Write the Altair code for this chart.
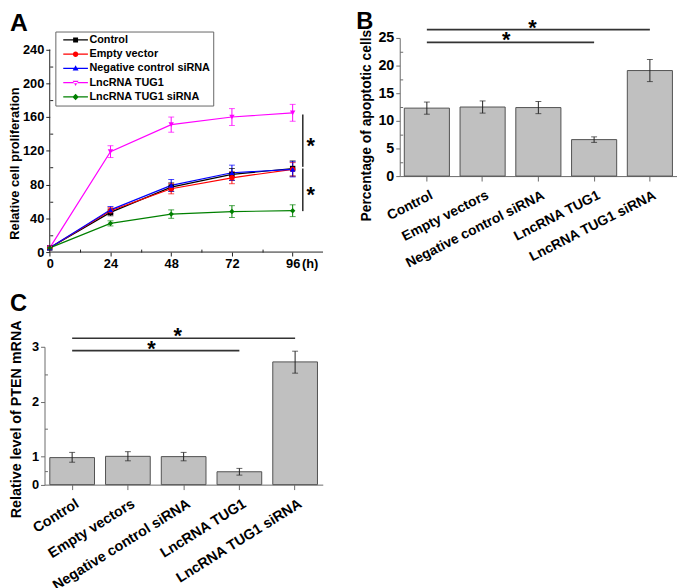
import altair as alt
import pandas as pd

FONT = "Liberation Sans"

# ---------------- Panel A : proliferation curves ----------------
hours = [0, 24, 48, 72, 96]
series_a = ["Control", "Empty vector", "Negative control siRNA", "LncRNA TUG1", "LncRNA TUG1 siRNA"]
colors_a = ["#000000", "#FF0000", "#0000FF", "#FF00FF", "#008000"]
shapes_a = ["square", "circle", "triangle-up", "triangle-down", "diamond"]
control_a = [5, 47, 77, 92, 99]
control_err = [0, 4, 5, 7, 9]
empty_a = [5, 49, 75, 88, 98]
empty_err = [0, 4, 6, 7, 8]
negative_a = [5, 50, 79, 94, 98]
negative_err = [0, 4, 7, 9, 9]
tug1_a = [5, 119, 151, 160, 165]
tug1_err = [0, 7, 9, 10, 10]
sirna_a = [5, 34, 45, 48, 49]
sirna_err = [0, 3, 5, 7, 7]
x_ticks_a = [0, 24, 48, 72, 96]
x_minor_a = [12, 36, 60, 84, 108]
y_ticks_a = [0, 40, 80, 120, 160, 200, 240]
y_minor_a = [20, 60, 100, 140, 180, 220]
x_end_a = [108]
y_end_a = [240]
sig_a_x = [100, 100]
sig_a_top = [163, 99]
sig_a_bottom = [101, 48.5]

# ---------------- Panel B : apoptosis ----------------
cats = ["Control", "Empty vectors", "Negative control siRNA", "LncRNA TUG1", "LncRNA TUG1 siRNA"]
apoptosis = [12.3, 12.5, 12.4, 6.6, 19.1]
apoptosis_err = [1.1, 1.1, 1.1, 0.5, 2.0]
y_ticks_b = [0, 5, 10, 15, 20, 25]
y_minor_b = [2.5, 7.5, 12.5, 17.5, 22.5]
sig_b_from = ["Control", "Control"]
sig_b_to = ["LncRNA TUG1 siRNA", "LncRNA TUG1"]
sig_b_y = [26.5, 24.2]

# ---------------- Panel C : PTEN mRNA ----------------
pten = [0.965, 1.005, 1.0, 0.46, 2.725]
pten_lo = [0.80, 0.85, 0.85, 0.34, 2.52]
pten_hi = [1.077, 1.09, 1.077, 0.58, 2.92]
y_ticks_c = [0, 1, 2, 3]
y_minor_c = [0.5, 1.5, 2.5]
sig_c_from = ["Control", "Control"]
sig_c_to = ["LncRNA TUG1 siRNA", "LncRNA TUG1"]
sig_c_y = [3.156, 2.93]

# ---------------- tables ----------------
rows = []
for name, vals, errs in zip(series_a,
                            [control_a, empty_a, negative_a, tug1_a, sirna_a],
                            [control_err, empty_err, negative_err, tug1_err, sirna_err]):
    for h, v, e in zip(hours, vals, errs):
        rows.append(dict(series=name, hour=h, value=v, lo=v - e, hi=v + e, err=e))
df_a = pd.DataFrame(rows)
df_a_err = df_a[df_a.err > 0]
df_sig_a = pd.DataFrame({"x": sig_a_x, "y1": sig_a_top, "y2": sig_a_bottom})
df_sig_a["ymid"] = (df_sig_a.y1 + df_sig_a.y2) / 2
df_axes_a = pd.DataFrame({"x0": [0], "x1": x_end_a, "y0": [0], "y1": y_end_a})
df_h = pd.DataFrame({"hour": [x_ticks_a[-1]], "value": [0], "t": ["(h)"]})

df_b = pd.DataFrame({"cat": cats, "val": apoptosis,
                     "lo": [v - e for v, e in zip(apoptosis, apoptosis_err)],
                     "hi": [v + e for v, e in zip(apoptosis, apoptosis_err)]})
df_sig_b = pd.DataFrame({"a": sig_b_from, "b": sig_b_to, "y": sig_b_y, "t": ["*", "*"]})

df_c = pd.DataFrame({"cat": cats, "val": pten, "lo": pten_lo, "hi": pten_hi})
df_sig_c = pd.DataFrame({"a": sig_c_from, "b": sig_c_to, "y": sig_c_y, "t": ["*", "*"]})

one = pd.DataFrame({"t": ["x"]})

# ---------------- Panel A chart ----------------
AX_A = "#222222"
WA, HA = 282, 217
A_YAXIS_SHIFT = 5.3
xA_scale = alt.Scale(domain=[-2.07, 107.9], nice=False, zero=False)
yA_scale = alt.Scale(domain=[0, 253.7], nice=False, zero=False)
color_a = alt.Scale(domain=series_a, range=colors_a)

xA = alt.X("hour:Q", scale=xA_scale,
           axis=alt.Axis(values=x_ticks_a, domain=False, tickSize=4, tickColor=AX_A, labelOverlap=False,
                         labelPadding=2, labelFontSize=13, title=None, format="d"))
yA = alt.Y("value:Q", scale=yA_scale,
           axis=alt.Axis(values=y_ticks_a, domain=False, offset=-A_YAXIS_SHIFT, tickSize=4,
                         tickColor=AX_A, labelOverlap=False,
                         labelPadding=2, labelFontSize=13, title="Relative cell proliferation",
                         titleFontSize=13, titlePadding=1, titleY=126.8))


def qx(f):
    return alt.X(f, type="quantitative", axis=None)


def qy(f):
    return alt.Y(f, type="quantitative", axis=None)


lines = alt.Chart(df_a).mark_line(strokeWidth=1.2).encode(
    x=xA, y=yA, detail="series:N",
    color=alt.Color("series:N", scale=color_a, legend=None))
minor_a = alt.Chart(df_a).transform_filter("false").mark_point().encode(
    x=alt.X("hour:Q", axis=alt.Axis(orient="top", offset=-HA, values=x_minor_a, labels=False,
                                    domain=False, tickSize=3, tickColor=AX_A, title=None)),
    y=alt.Y("value:Q", axis=alt.Axis(orient="right", offset=-(WA - A_YAXIS_SHIFT), values=y_minor_a,
                                     labels=False, domain=False, tickSize=3, tickColor=AX_A,
                                     title=None)))
err_rules = alt.Chart(df_a_err).mark_rule(strokeWidth=1).encode(
    x=qx("hour"), y=qy("lo"), y2="hi:Q",
    color=alt.Color("series:N", scale=color_a, legend=None))
caps_hi = alt.Chart(df_a_err).mark_tick(orient="horizontal", size=6, thickness=1).encode(
    x=qx("hour"), y=qy("hi"), color=alt.Color("series:N", scale=color_a, legend=None))
caps_lo = alt.Chart(df_a_err).mark_tick(orient="horizontal", size=6, thickness=1).encode(
    x=qx("hour"), y=qy("lo"), color=alt.Color("series:N", scale=color_a, legend=None))
points = alt.Chart(df_a).mark_point(filled=True, size=30, opacity=1).encode(
    x=qx("hour"), y=qy("value"),
    color=alt.Color("series:N", scale=color_a, legend=None),
    shape=alt.Shape("series:N", scale=alt.Scale(domain=series_a, range=shapes_a), legend=None))

line_path = "M-5,-0.26H5V0.26H-5Z "
leg_paths = [
    line_path + "M-1,-1H1V1H-1Z",
    line_path + "M-1.1,0A1.1,1.1,0,1,1,1.1,0A1.1,1.1,0,1,1,-1.1,0Z",
    line_path + "M0,-1.3L1.2,0.8H-1.2Z",
    line_path + "M0,1.3L1.2,-0.8H-1.2Z",
    line_path + "M0,-1.3L1.3,0L0,1.3L-1.3,0Z",
]
leg = alt.Legend(title=None, orient="none", legendX=11, legendY=-6.5, symbolSize=25,
                 symbolStrokeWidth=0, labelFont=FONT, labelFontSize=11, labelFontWeight="bold",
                 labelColor="black", padding=3, rowPadding=2.45, symbolOffset=12, labelOffset=8.5,
                 strokeColor="#666666", fillColor="white", labelLimit=300)
legend_layer = alt.Chart(df_a).transform_filter("false").mark_point(filled=True, opacity=1).encode(
    x=qx("hour"), y=qy("value"),
    color=alt.Color("series:N", scale=color_a, legend=leg),
    shape=alt.Shape("series:N", scale=alt.Scale(domain=series_a, range=leg_paths), legend=leg))

axis_x_rule = alt.Chart(df_axes_a).mark_rule(color=AX_A, strokeWidth=1).encode(
    x=qx("x0"), x2="x1:Q", y=qy("y0"))
axis_y_rule = alt.Chart(df_axes_a).mark_rule(color=AX_A, strokeWidth=1).encode(
    x=qx("x0"), y=qy("y0"), y2="y1:Q")
sig_rule_a = alt.Chart(df_sig_a).mark_rule(color="#333333", strokeWidth=1.6).encode(
    x=qx("x"), y=qy("y1"), y2="y2:Q")
sig_star_a = alt.Chart(df_sig_a).mark_text(text="*", font=FONT, fontSize=22, fontWeight="bold",
                                           align="center", baseline="alphabetic", dx=8, dy=12).encode(
    x=qx("x"), y=qy("ymid"))
h_text = alt.Chart(df_h).mark_text(font=FONT, fontSize=13, fontWeight="bold", align="left",
                                   baseline="middle", dx=9.5, dy=12.5).encode(
    x=qx("hour"), y=qy("value"), text="t:N")
letter_a = alt.Chart(one).mark_text(text="A", font=FONT, fontSize=25, fontWeight="bold",
                                    align="left", baseline="alphabetic").encode(
    x=alt.value(-35), y=alt.value(-6.7))

panel_a = alt.layer(lines, minor_a, err_rules, caps_hi, caps_lo, points, legend_layer,
                    axis_x_rule, axis_y_rule, sig_rule_a, sig_star_a, h_text, letter_a).resolve_scale(
    color="independent", shape="independent").resolve_axis(
    x="independent", y="independent").properties(width=WA, height=HA)

# ---------------- bar panels ----------------
AX_B = "#6a6a6a"


def bar_panel(df, df_sig, y_scale, y_ticks, y_minor, y_title, title_y, title_pad, lab_angle, letter,
              letter_xy, ylab_size, ytitle_size, xlab_size, width, height, pin, pout):
    xs = alt.Scale(domain=cats, paddingInner=pin, paddingOuter=pout)
    x = alt.X("cat:N", sort=cats, scale=xs,
              axis=alt.Axis(title=None, labelAngle=lab_angle, labelAlign="right", labelBaseline="top",
                            labelFontSize=xlab_size, tickSize=5, labelPadding=7, labelOffset=2,
                            domainColor=AX_B, tickColor=AX_B, labelLimit=400, labelOverlap=False))
    y = alt.Y("val:Q", scale=y_scale,
              axis=alt.Axis(values=y_ticks, title=y_title, titleFontSize=ytitle_size, titleY=title_y,
                            titlePadding=title_pad, labelFontSize=ylab_size, tickSize=4, labelPadding=2,
                            domainColor=AX_B, tickColor=AX_B, labelOverlap=False))
    ny = lambda f: alt.Y(f, type="quantitative", axis=None)
    bars = alt.Chart(df).mark_bar(fill="#C0C0C0", stroke="#505050", strokeWidth=1).encode(x=x, y=y)
    minor = alt.Chart(df).transform_filter("false").mark_point().encode(
        y=alt.Y("val:Q", axis=alt.Axis(orient="right", offset=-width, values=y_minor, labels=False,
                                       domain=False, tickSize=3, tickColor=AX_B, title=None)))
    er = alt.Chart(df).mark_rule(color="#222222", strokeWidth=1).encode(x="cat:N", y=ny("lo"), y2="hi:Q")
    ch = alt.Chart(df).mark_tick(orient="horizontal", size=6, thickness=1, color="#222222").encode(
        x="cat:N", y=ny("hi"))
    cl = alt.Chart(df).mark_tick(orient="horizontal", size=6, thickness=1, color="#222222").encode(
        x="cat:N", y=ny("lo"))
    sr = alt.Chart(df_sig).mark_rule(color="#333333", strokeWidth=1.6).encode(
        x=alt.X("a:N", bandPosition=0.5), x2=alt.X2("b", bandPosition=0.5), y=ny("y"))
    # asterisk of the long bracket sits over its middle category, the short one between 2nd and 3rd
    st1 = alt.Chart(df_sig).transform_filter(alt.datum.b == cats[-1]).transform_calculate(
        s="'" + cats[2] + "'").mark_text(font=FONT, fontSize=22, fontWeight="bold", align="center",
                                         baseline="alphabetic", dx=-6, dy=5).encode(
        x=alt.X("s:N", bandPosition=0.5), y=ny("y"), text="t:N")
    st2 = alt.Chart(df_sig).transform_filter(alt.datum.b != cats[-1]).transform_calculate(
        s="'" + cats[1] + "'").mark_text(font=FONT, fontSize=22, fontWeight="bold", align="center",
                                         baseline="alphabetic", dx=24, dy=5).encode(
        x=alt.X("s:N", bandPosition=0.5), y=ny("y"), text="t:N")
    lt = alt.Chart(one).mark_text(text=letter, font=FONT, fontSize=24, fontWeight="bold",
                                  align="left", baseline="alphabetic").encode(
        x=alt.value(letter_xy[0]), y=alt.value(letter_xy[1]))
    return alt.layer(bars, minor, er, ch, cl, sr, st1, st2, lt).resolve_axis(
        y="independent").properties(width=width, height=height)


panel_b = bar_panel(df_b, df_sig_b, alt.Scale(domain=[0, 25], nice=False), y_ticks_b, y_minor_b,
                    "Percentage of apoptotic cells", 88.3, 4, 333, "B", (-44, -9.2),
                    14.5, 14, 14, 281, 140, 0.191, 0.082)
panel_c = bar_panel(df_c, df_sig_c,
                    alt.Scale(domain=[0, 1, 3], range=[139.7, 111.3, 0], nice=False, zero=False),
                    y_ticks_c, y_minor_c, "Relative level of PTEN mRNA", 73, 8.5, 328, "C", (-35, -36),
                    13, 14.5, 14.5, 282, 139.7, 0.198, 0.095)

chart = alt.concat(panel_a, panel_b, panel_c, columns=2, bounds="flush",
                   spacing={"row": 96, "column": 78}).properties(
    padding={"left": 0, "top": -2.6, "right": 0, "bottom": 0}
).configure(font=FONT).configure_view(stroke=None).configure_axis(
    labelFont=FONT, titleFont=FONT, labelFontWeight="bold", titleFontWeight="bold",
    labelColor="black", titleColor="black", grid=False, labelOverlap=False, labelFlush=False)

chart.save("out.html", embed_options={"renderer": "svg", "actions": False})
